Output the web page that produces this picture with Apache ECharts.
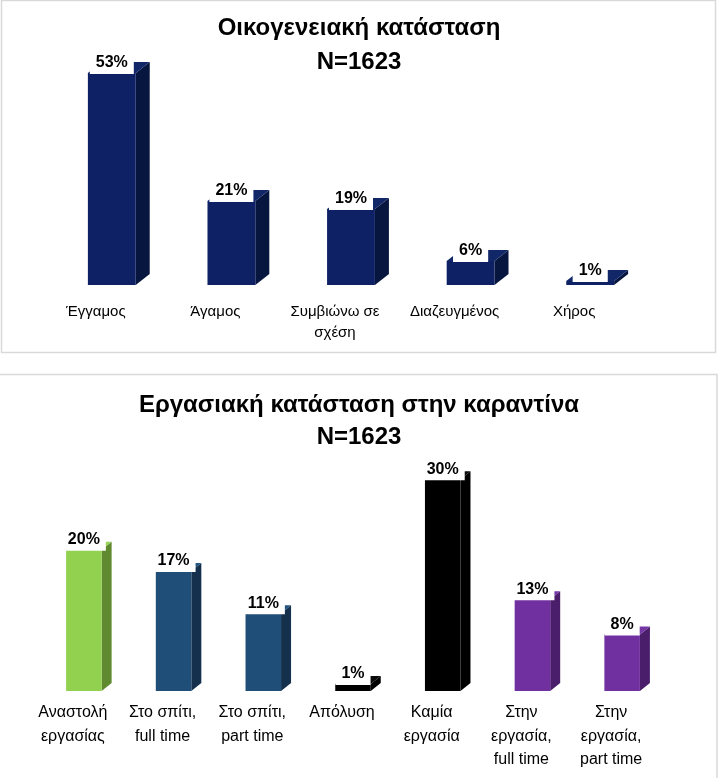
<!DOCTYPE html>
<html>
<head>
<meta charset="utf-8">
<script src="https://cdn.jsdelivr.net/npm/echarts@6/dist/echarts.min.js"></script>
<style>
  html, body { margin: 0; padding: 0; background: #fff; }
  #main { width: 718px; height: 778px; }
</style>
</head>
<body>
<div id="main"></div>
<script>
// data
var familyCats = ['Έγγαμος', 'Άγαμος', 'Συμβιώνω σε\nσχέση', 'Διαζευγμένος', 'Χήρος'];
var familyVals = [53, 21, 19, 6, 1];

var workCats = ['Αναστολή\nεργασίας', 'Στο σπίτι,\nfull time', 'Στο σπίτι,\npart time', 'Απόλυση',
  'Καμία\nεργασία', 'Στην\nεργασία,\nfull time', 'Στην\nεργασία,\npart time'];
var workVals = [20, 17, 11, 1, 30, 13, 8];

// colours for each bar (front / side / top)
var navy = { front: '#0d2164', side: '#07163f', top: '#112768' };
var green = { front: '#92d050', side: '#5f8a30', top: '#98d457' };
var blue = { front: '#1f4e79', side: '#15304d', top: '#23547f' };
var black = { front: '#000000', side: '#000000', top: '#0a0a0a' };
var purple = { front: '#7030a0', side: '#4a1e6b', top: '#7535a5' };
var familyColors = [navy, navy, navy, navy, navy];
var workColors = [green, blue, blue, black, black, purple, purple];

var FONT = 'Liberation Sans, Arial, sans-serif';

// fake 3d bar: front rect + side + top, label with white box
function bar3d(colors, ratio, shift, dx, dy, labelSize) {
  return function (params, api) {
    var idx = api.value(0);
    var val = api.value(1);
    var base = api.coord([idx, 0]);
    var top = api.coord([idx, val]);
    var bw = api.size([1, 0])[0] * ratio;
    var x0 = base[0] + shift - bw / 2;
    var x1 = x0 + bw;
    var yb = base[1], yt = top[1];
    var c = colors[params.dataIndex];
    return {
      type: 'group',
      children: [
        { type: 'polygon', shape: { points: [[x1, yb], [x1 + dx, yb - dy], [x1 + dx, yt - dy], [x1, yt]] }, style: { fill: c.side } },
        { type: 'polygon', shape: { points: [[x0, yt], [x1, yt], [x1 + dx, yt - dy], [x0 + dx, yt - dy]] }, style: { fill: c.top } },
        { type: 'rect', shape: { x: x0, y: yt, width: bw, height: yb - yt }, style: { fill: c.front } },
        {
          type: 'text', x: x0 + bw / 2, y: yt + 1,
          style: {
            text: val + '%', fill: '#000', font: 'bold ' + labelSize + 'px ' + FONT,
            align: 'center', verticalAlign: 'bottom',
            backgroundColor: '#fff', padding: [5, 6, 3, 6]
          }
        }
      ]
    };
  };
}

function toPairs(vals) {
  return vals.map(function (v, i) { return [i, v]; });
}

var myChart = echarts.init(document.getElementById('main'));

var option = {
  animation: false,
  backgroundColor: '#fff',
  graphic: [
    { type: 'rect', shape: { x: 1.5, y: 0.5, width: 714, height: 352 }, style: { fill: 'none', stroke: '#d9d9d9', lineWidth: 1.5 }, z: -1 },
    { type: 'rect', shape: { x: -3, y: 374.5, width: 720, height: 410 }, style: { fill: 'none', stroke: '#d9d9d9', lineWidth: 1.5 }, z: -1 }
  ],
  title: [
    {
      text: 'Οικογενειακή κατάσταση\nN=1623', left: 'center', top: 11, padding: 0,
      textStyle: { fontFamily: FONT, fontSize: 24, fontWeight: 'bold', lineHeight: 34, color: '#000' }
    },
    {
      text: 'Εργασιακή κατάσταση στην καραντίνα\nN=1623', left: 'center', top: 389, padding: 0,
      textStyle: { fontFamily: FONT, fontSize: 24, fontWeight: 'bold', lineHeight: 32, color: '#000' }
    }
  ],
  grid: [
    { left: 36, width: 598, top: 45, height: 240 },
    { left: 28, width: 628, top: 444, height: 247 }
  ],
  xAxis: [
    {
      type: 'category', gridIndex: 0, data: familyCats,
      axisLine: { show: false }, axisTick: { show: false },
      axisLabel: { interval: 0, margin: 16, fontFamily: FONT, fontSize: 15, lineHeight: 21, color: '#000' }
    },
    {
      type: 'category', gridIndex: 1, data: workCats,
      axisLine: { show: false }, axisTick: { show: false },
      axisLabel: { interval: 0, margin: 10, fontFamily: FONT, fontSize: 16, lineHeight: 23.5, color: '#000' }
    }
  ],
  yAxis: [
    { type: 'value', gridIndex: 0, min: 0, max: 60, show: false },
    { type: 'value', gridIndex: 1, min: 0, max: 35, show: false }
  ],
  series: [
    {
      type: 'custom', xAxisIndex: 0, yAxisIndex: 0,
      renderItem: bar3d(familyColors, 0.40, 16, 14, 11, 16),
      data: toPairs(familyVals)
    },
    {
      type: 'custom', xAxisIndex: 1, yAxisIndex: 1,
      renderItem: bar3d(workColors, 0.396, 11, 10, 8, 16),
      data: toPairs(workVals)
    }
  ]
};

myChart.setOption(option);
</script>
</body>
</html>
